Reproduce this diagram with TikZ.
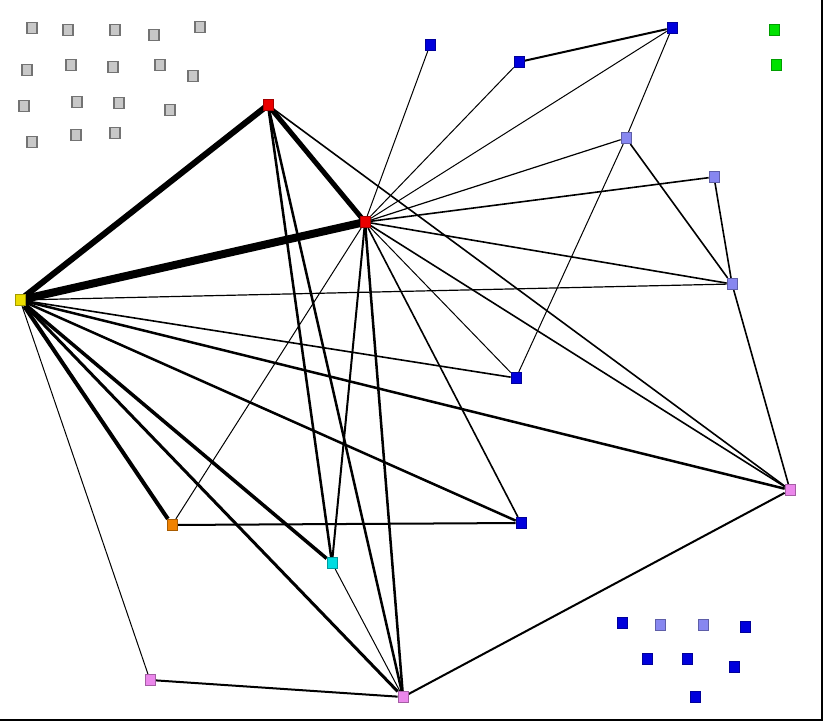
\documentclass[tikz,border=0pt]{standalone}
\usepackage{xcolor}
\usetikzlibrary{backgrounds}
\definecolor{nred}{RGB}{235,0,0}
\definecolor{nblue}{RGB}{0,0,220}
\definecolor{nlblue}{RGB}{135,135,240}
\definecolor{nyel}{RGB}{235,220,0}
\definecolor{norg}{RGB}{240,130,0}
\definecolor{ncyan}{RGB}{0,220,225}
\definecolor{npink}{RGB}{235,135,235}
\definecolor{ngreen}{RGB}{0,225,0}
\definecolor{ngray}{RGB}{200,200,200}

\begin{document}
\begin{tikzpicture}[x=0.02cm,y=-0.02cm,font=\tiny,
 v/.style={draw=#1!70!black,fill=#1,minimum width=2mm,minimum height=2.3mm,inner sep=0pt},
 g/.style={v=ngray,draw=black!55,line width=0.8pt},
 e/.style={line width=#1*0.57pt,black},
 e/.default=1.6]
\useasboundingbox (0,0) rectangle (825,722);
\draw[line width=1.5pt] (822,0) -- (822,720) -- (0,720);
% membres sans liens
\foreach \px/\py [count=\i] in {32/28,68/30,115/30,154/35,200/27,27/70,71/65,113/67,160/65,193/76,
 24/106,77/102,119/103,170/110,32/142,76/135,115/133}
 \node[g] (g\i) at (\px,\py) {};
\node[v=ngreen] (c1) at (774,30) {};
\node[v=ngreen] (c2) at (776,65) {};
% reseau principal
\node[v=nblue] (b1) at (430,45) {};
\node[v=nblue] (b2) at (519,62) {};
\node[v=nblue] (b3) at (672,28) {};
\node[v=nlblue] (l1) at (626,138) {};
\node[v=nlblue] (l2) at (714,177) {};
\node[v=nlblue] (l3) at (732,284) {};
\node[v=nblue] (b4) at (516,378) {};
\node[v=nblue] (b5) at (521,523) {};
\node[v=nred] (r1) at (268,105) {};
\node[v=nred] (r2) at (365,222) {};
\node[v=nyel] (y) at (20,300) {};
\node[v=norg] (o) at (172,525) {};
\node[v=ncyan] (cy) at (332,563) {};
\node[v=npink] (p1) at (790,490) {};
\node[v=npink] (p2) at (150,680) {};
\node[v=npink] (p3) at (403,697) {};
% groupe en bas a droite
\node[v=nblue] (k1) at (622,623) {};
\node[v=nlblue] (k2) at (660,625) {};
\node[v=nlblue] (k3) at (703,625) {};
\node[v=nblue] (k4) at (745,627) {};
\node[v=nblue] (k5) at (647,659) {};
\node[v=nblue] (k6) at (687,659) {};
\node[v=nblue] (k7) at (734,667) {};
\node[v=nblue] (k8) at (695,697) {};
\begin{pgfonlayer}{background}
\draw[e=8] (y.center)--(r2.center);
\draw[e=6] (y.center)--(r1.center);
\draw[e=5] (r1.center)--(r2.center);
\draw[e=4] (y)--(o);
\draw[e=3.5] (y)--(cy);
\draw[e=3] (y)--(p3);
\draw[e=2.5] (y)--(p1); \draw[e=2.5] (y)--(b5);
\draw[e=2.5] (r1)--(cy); \draw[e=2.5] (r1)--(p3);
\draw[e=2] (r2)--(cy); \draw[e=2.5] (r2)--(p3);
\draw[e] (r2)--(p1); \draw[e] (r2)--(b5); \draw[e] (r1)--(p1);
\draw[e=2] (b3)--(b2); \draw[e=2] (o)--(b5);
\draw[e=2] (p2)--(p3); \draw[e=2] (p3)--(p1);
\draw[e] (l3)--(p1); \draw[e] (l2)--(l3); \draw[e] (l1)--(l3);
\draw[e] (r2)--(l2); \draw[e] (r2)--(l3);
\draw[e=1.2] (y)--(l3); \draw[e] (y)--(b4);
\draw[e=1] (r2)--(b4); \draw[e=1] (l1)--(b4);
\draw[e=1] (b3)--(r2); \draw[e=1] (b3)--(l1); \draw[e=1] (b2)--(r2);
\draw[e=1] (b1)--(r2); \draw[e=1.2] (r2)--(l1);
\draw[e=1] (y)--(p2); \draw[e=1] (o)--(r2); \draw[e=1] (cy)--(p3);
\end{pgfonlayer}
\end{tikzpicture}
\end{document}
